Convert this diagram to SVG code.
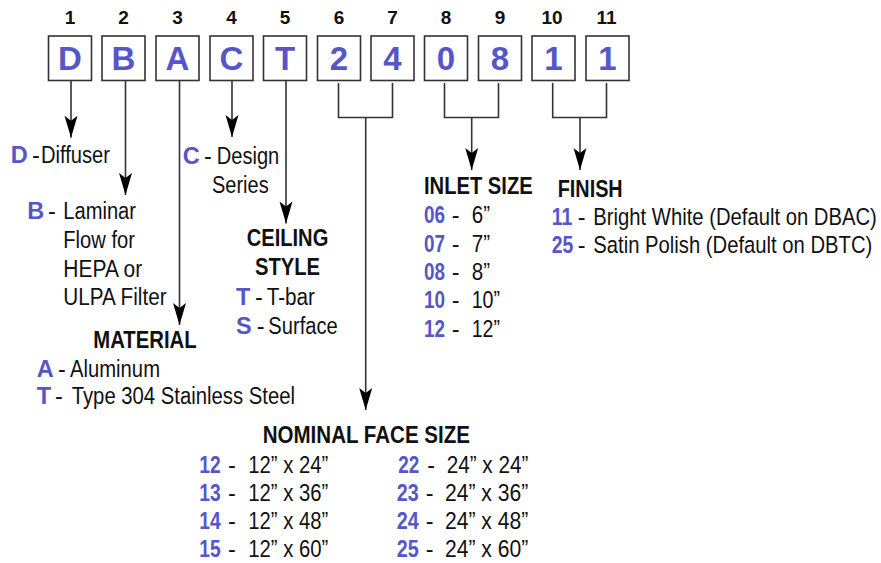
<svg xmlns="http://www.w3.org/2000/svg" width="881" height="563" viewBox="0 0 881 563">
<style>
text{font-family:"Liberation Sans",Arial,Helvetica,sans-serif;font-size:23.5px;fill:#111}
.num{font-weight:bold;font-size:19px;text-anchor:middle;fill:#111}
.big{font-weight:bold;font-size:33px;text-anchor:middle;fill:#5656C8}
.c{font-weight:bold;fill:#5656C8}
.h{font-weight:bold;fill:#111}
.box{fill:#fff;stroke:#333;stroke-width:1.6}
.ln{fill:none;stroke:#333;stroke-width:1.6}
</style>
<defs>
<marker id="ah" markerUnits="userSpaceOnUse" markerWidth="24" markerHeight="16" viewBox="0 -8 22 16" refX="22" refY="0" orient="auto">
<path d="M0,-6.5 L22,0 L0,6.5 L5,0 Z" fill="#000"/>
</marker>
</defs>
<rect width="881" height="563" fill="#fff"/>

<g id="pos1"><text class="num" x="70" y="24">1</text><rect class="box" x="48.5" y="36" width="43" height="44.5"/><text class="big" x="70" y="70">D</text></g>
<g id="pos2"><text class="num" x="123.5" y="24">2</text><rect class="box" x="102" y="36" width="43" height="44.5"/><text class="big" x="123.5" y="70">B</text></g>
<g id="pos3"><text class="num" x="177.5" y="24">3</text><rect class="box" x="156" y="36" width="43" height="44.5"/><text class="big" x="177.5" y="70">A</text></g>
<g id="pos4"><text class="num" x="231.5" y="24">4</text><rect class="box" x="210" y="36" width="43" height="44.5"/><text class="big" x="231.5" y="70">C</text></g>
<g id="pos5"><text class="num" x="285" y="24">5</text><rect class="box" x="263.5" y="36" width="43" height="44.5"/><text class="big" x="285" y="70">T</text></g>
<g id="pos6"><text class="num" x="339" y="24">6</text><rect class="box" x="317.5" y="36" width="43" height="44.5"/><text class="big" x="339" y="70">2</text></g>
<g id="pos7"><text class="num" x="392.5" y="24">7</text><rect class="box" x="371" y="36" width="43" height="44.5"/><text class="big" x="392.5" y="70">4</text></g>
<g id="pos8"><text class="num" x="446" y="24">8</text><rect class="box" x="424.5" y="36" width="43" height="44.5"/><text class="big" x="446" y="70">0</text></g>
<g id="pos9"><text class="num" x="500" y="24">9</text><rect class="box" x="478.5" y="36" width="43" height="44.5"/><text class="big" x="500" y="70">8</text></g>
<g id="pos10"><text class="num" x="552" y="24">10</text><rect class="box" x="532" y="36" width="43" height="44.5"/><text class="big" x="553.5" y="70">1</text></g>
<g id="pos11"><text class="num" x="606.5" y="24">11</text><rect class="box" x="586" y="36" width="43" height="44.5"/><text class="big" x="607.5" y="70">1</text></g>

<g id="connectors">
<line class="ln" x1="71" y1="80.7" x2="71" y2="137.7" marker-end="url(#ah)"/>
<line class="ln" x1="125.5" y1="80.7" x2="125.5" y2="195" marker-end="url(#ah)"/>
<line class="ln" x1="179.5" y1="80.7" x2="179.5" y2="325" marker-end="url(#ah)"/>
<line class="ln" x1="232" y1="80.7" x2="232" y2="137" marker-end="url(#ah)"/>
<line class="ln" x1="286" y1="80.7" x2="286" y2="223.5" marker-end="url(#ah)"/>
<path class="ln" d="M338.5,83 V117.5 H392.5 V83"/>
<line class="ln" x1="365.7" y1="117.5" x2="365.7" y2="410" marker-end="url(#ah)"/>
<path class="ln" d="M444.5,83 V117.5 H498.5 V83"/>
<line class="ln" x1="471.7" y1="117.5" x2="471.7" y2="170" marker-end="url(#ah)"/>
<path class="ln" d="M552.7,83 V117.5 H606.5 V83"/>
<line class="ln" x1="580" y1="117.5" x2="580" y2="170" marker-end="url(#ah)"/>
</g>

<g id="diffuser">
<text x="10.7" y="163.3"><tspan class="c">D</tspan><tspan x="32">-</tspan><tspan x="41" textLength="69" lengthAdjust="spacingAndGlyphs">Diffuser</tspan></text>
</g>

<g id="design">
<text x="182.7" y="164.3"><tspan class="c">C</tspan><tspan x="204">-</tspan><tspan x="216.7" textLength="62.6" lengthAdjust="spacingAndGlyphs">Design</tspan></text>
<text x="212" y="192.7" textLength="56.7" lengthAdjust="spacingAndGlyphs">Series</text>
</g>

<g id="laminar">
<text x="27.3" y="219.3"><tspan class="c">B</tspan><tspan x="48">-</tspan><tspan x="63.3" textLength="72.7" lengthAdjust="spacingAndGlyphs">Laminar</tspan></text>
<text x="63.3" y="248.3" textLength="71.7" lengthAdjust="spacingAndGlyphs">Flow for</text>
<text x="63.3" y="276.7" textLength="79" lengthAdjust="spacingAndGlyphs">HEPA or</text>
<text x="63.3" y="305" textLength="103.4" lengthAdjust="spacingAndGlyphs">ULPA Filter</text>
</g>

<g id="material">
<text class="h" x="93.3" y="348.3" textLength="103.4" lengthAdjust="spacingAndGlyphs">MATERIAL</text>
<text x="36.7" y="376.7"><tspan class="c">A</tspan><tspan x="58">-</tspan><tspan x="70" textLength="90" lengthAdjust="spacingAndGlyphs">Aluminum</tspan></text>
<text x="36.7" y="404"><tspan class="c">T</tspan><tspan x="55">-</tspan><tspan x="71.7" textLength="223.3" lengthAdjust="spacingAndGlyphs">Type 304 Stainless Steel</tspan></text>
</g>

<g id="ceiling">
<text class="h" x="246.7" y="246" textLength="81.6" lengthAdjust="spacingAndGlyphs">CEILING</text>
<text class="h" x="255" y="275" textLength="65" lengthAdjust="spacingAndGlyphs">STYLE</text>
<text x="236" y="305"><tspan class="c">T</tspan><tspan x="255">-</tspan><tspan x="266.7" textLength="48.3" lengthAdjust="spacingAndGlyphs">T-bar</tspan></text>
<text x="236" y="334.3"><tspan class="c">S</tspan><tspan x="256.7">-</tspan><tspan x="268.3" textLength="69.4" lengthAdjust="spacingAndGlyphs">Surface</tspan></text>
</g>

<g id="inlet">
<text class="h" x="424" y="194.3" textLength="108.7" lengthAdjust="spacingAndGlyphs">INLET SIZE</text>
<text x="424" y="223.3"><tspan class="c" textLength="21" lengthAdjust="spacingAndGlyphs">06</tspan><tspan x="451.7">-</tspan><tspan x="471.7" textLength="18.3" lengthAdjust="spacingAndGlyphs">6”</tspan></text>
<text x="424" y="251.7"><tspan class="c" textLength="21" lengthAdjust="spacingAndGlyphs">07</tspan><tspan x="451.7">-</tspan><tspan x="471.7" textLength="18.3" lengthAdjust="spacingAndGlyphs">7”</tspan></text>
<text x="424" y="280"><tspan class="c" textLength="21" lengthAdjust="spacingAndGlyphs">08</tspan><tspan x="451.7">-</tspan><tspan x="471.7" textLength="18.3" lengthAdjust="spacingAndGlyphs">8”</tspan></text>
<text x="424" y="308.3"><tspan class="c" textLength="21" lengthAdjust="spacingAndGlyphs">10</tspan><tspan x="451.7">-</tspan><tspan x="471.7" textLength="28.3" lengthAdjust="spacingAndGlyphs">10”</tspan></text>
<text x="424" y="336.7"><tspan class="c" textLength="21" lengthAdjust="spacingAndGlyphs">12</tspan><tspan x="451.7">-</tspan><tspan x="471.7" textLength="28.3" lengthAdjust="spacingAndGlyphs">12”</tspan></text>
</g>

<g id="finish">
<text class="h" x="557.7" y="196.7" textLength="65" lengthAdjust="spacingAndGlyphs">FINISH</text>
<text x="551.7" y="225"><tspan class="c" textLength="20.6" lengthAdjust="spacingAndGlyphs">11</tspan><tspan x="577.7">-</tspan></text>
<text transform="translate(593.3 225) scale(0.862 1)" x="0" y="0">Bright White (Default on DBAC)</text>
<text x="551.7" y="253.3"><tspan class="c" textLength="21.6" lengthAdjust="spacingAndGlyphs">25</tspan><tspan x="577.7">-</tspan></text>
<text transform="translate(593.3 253.3) scale(0.862 1)" x="0" y="0">Satin Polish (Default on DBTC)</text>
</g>

<g id="facesize">
<text class="h" x="262.7" y="443.3" textLength="207.3" lengthAdjust="spacingAndGlyphs">NOMINAL FACE SIZE</text>
<text x="199.3" y="472.7"><tspan class="c" textLength="21.4" lengthAdjust="spacingAndGlyphs">12</tspan><tspan x="228">-</tspan><tspan x="248.3" textLength="80" lengthAdjust="spacingAndGlyphs">12” x 24”</tspan></text>
<text x="199.3" y="501"><tspan class="c" textLength="21.4" lengthAdjust="spacingAndGlyphs">13</tspan><tspan x="228">-</tspan><tspan x="248.3" textLength="80" lengthAdjust="spacingAndGlyphs">12” x 36”</tspan></text>
<text x="199.3" y="529.3"><tspan class="c" textLength="21.4" lengthAdjust="spacingAndGlyphs">14</tspan><tspan x="228">-</tspan><tspan x="248.3" textLength="80" lengthAdjust="spacingAndGlyphs">12” x 48”</tspan></text>
<text x="199.3" y="557"><tspan class="c" textLength="21.4" lengthAdjust="spacingAndGlyphs">15</tspan><tspan x="228">-</tspan><tspan x="248.3" textLength="80" lengthAdjust="spacingAndGlyphs">12” x 60”</tspan></text>
<text x="398.3" y="472.7"><tspan class="c" textLength="21" lengthAdjust="spacingAndGlyphs">22</tspan><tspan x="427.3">-</tspan><tspan x="446.7" textLength="81.6" lengthAdjust="spacingAndGlyphs">24” x 24”</tspan></text>
<text x="396.7" y="501"><tspan class="c" textLength="22" lengthAdjust="spacingAndGlyphs">23</tspan><tspan x="425.7">-</tspan><tspan x="445" textLength="83.3" lengthAdjust="spacingAndGlyphs">24” x 36”</tspan></text>
<text x="396.7" y="529.3"><tspan class="c" textLength="22" lengthAdjust="spacingAndGlyphs">24</tspan><tspan x="425.7">-</tspan><tspan x="445" textLength="83.3" lengthAdjust="spacingAndGlyphs">24” x 48”</tspan></text>
<text x="396.7" y="557"><tspan class="c" textLength="22" lengthAdjust="spacingAndGlyphs">25</tspan><tspan x="425.7">-</tspan><tspan x="445" textLength="83.3" lengthAdjust="spacingAndGlyphs">24” x 60”</tspan></text>
</g>
</svg>
